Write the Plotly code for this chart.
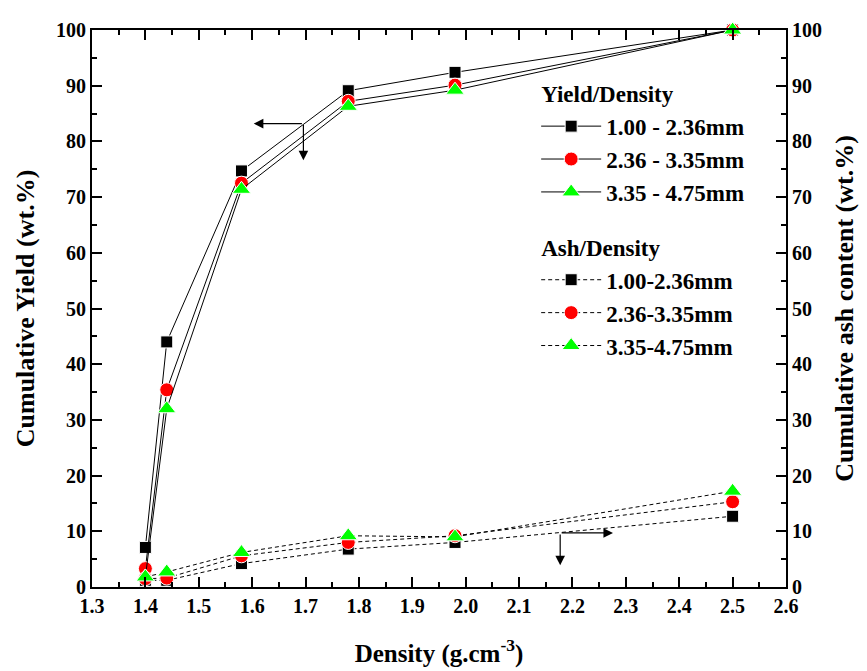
import plotly.graph_objects as go

density = [1.40, 1.44, 1.58, 1.78, 1.98, 2.50]

yield_names = ["1.00 - 2.36mm", "2.36 - 3.35mm", "3.35 - 4.75mm"]
yield_a = [7.1, 44.0, 74.7, 89.1, 92.4, 100.0]
yield_b = [3.3, 35.4, 72.5, 87.2, 90.1, 100.0]
yield_c = [1.8, 32.0, 71.4, 86.3, 89.2, 100.0]

ash_names = ["1.00-2.36mm", "2.36-3.35mm", "3.35-4.75mm"]
ash_a = [1.2, 1.2, 4.2, 6.8, 8.0, 12.7]
ash_b = [1.5, 1.6, 5.6, 8.0, 9.2, 15.3]
ash_c = [1.8, 2.7, 6.2, 9.2, 9.0, 17.2]

x_ticks = [1.3, 1.4, 1.5, 1.6, 1.7, 1.8, 1.9, 2.0, 2.1, 2.2, 2.3, 2.4, 2.5, 2.6]
x_tick_text = ["1.3", "1.4", "1.5", "1.6", "1.7", "1.8", "1.9", "2.0", "2.1", "2.2", "2.3", "2.4", "2.5", "2.6"]
y_ticks = [0, 10, 20, 30, 40, 50, 60, 70, 80, 90, 100]
y_tick_text = ["0", "10", "20", "30", "40", "50", "60", "70", "80", "90", "100"]

FONT = "Liberation Serif"
symbols = ["square", "circle", "triangle-up"]
colors = ["#000000", "#ff0000", "#00ff00"]
sizes = [12, 14, 16]

fig = go.Figure()

for i, (name, ys) in enumerate(zip(yield_names, [yield_a, yield_b, yield_c])):
    fig.add_trace(go.Scatter(
        x=density, y=ys, name=name, mode="lines+markers",
        line=dict(color="black", width=1),
        marker=dict(symbol=symbols[i], color=colors[i], size=sizes[i],
                    line=dict(color="white", width=1)),
        legendgroup="yield",
        legendgrouptitle=dict(text="<b>Yield/Density</b>"),
        cliponaxis=False,
    ))

for i, (name, ys) in enumerate(zip(ash_names, [ash_a, ash_b, ash_c])):
    fig.add_trace(go.Scatter(
        x=density, y=ys, name=name, mode="lines+markers", yaxis="y2",
        line=dict(color="black", width=1, dash="4px,3px"),
        marker=dict(symbol=symbols[i], color=colors[i], size=sizes[i],
                    line=dict(color="white", width=1)),
        legendgroup="ash",
        legendgrouptitle=dict(text="<b>Ash/Density</b>"),
        cliponaxis=False,
    ))

# Arrows
arrow_common = dict(showarrow=True, arrowhead=2, arrowsize=1.6, arrowwidth=1.2,
                    arrowcolor="black", text="", axref="x", ayref="y")
fig.add_annotation(x=1.603, y=83.2, ax=1.696, ay=83.2, xref="x", yref="y", **arrow_common)
fig.add_annotation(x=1.696, y=76.6, ax=1.696, ay=83.2, xref="x", yref="y", **arrow_common)
fig.add_annotation(x=2.276, y=9.7, ax=2.177, ay=9.7, xref="x", yref="y", **arrow_common)
fig.add_annotation(x=2.177, y=3.9, ax=2.177, ay=9.7, xref="x", yref="y", **arrow_common)

axis_font = dict(family=FONT, size=20, color="black", weight="bold")
ytitle_font = dict(family=FONT, size=26, color="black", weight="bold")
xtitle_font = dict(family=FONT, size=25, color="black", weight="bold")

bold = lambda lst: ["<b>%s</b>" % t for t in lst]

fig.update_layout(
    width=867, height=671,
    margin=dict(l=84, r=89, t=11, b=92),
    paper_bgcolor="white", plot_bgcolor="white",
    font=dict(family=FONT, color="black"),
    xaxis=dict(
        range=[1.3, 2.6], tickmode="array", tickvals=x_ticks, ticktext=bold(x_tick_text),
        ticks="inside", ticklen=10, tickwidth=2, tickcolor="black",
        showline=True, linewidth=2, linecolor="black", mirror="ticks",
        showgrid=False, zeroline=False, tickfont=axis_font,
        minor=dict(dtick=0.05, ticks="inside", ticklen=5, tickwidth=2, tickcolor="black", showgrid=False),
        title=dict(text="<b>Density (g.cm<sup>-3</sup>)</b>", font=xtitle_font, standoff=28),
    ),
    yaxis=dict(
        range=[0, 100], tickmode="array", tickvals=y_ticks, ticktext=bold(y_tick_text),
        ticks="inside", ticklen=10, tickwidth=2, tickcolor="black",
        showline=True, linewidth=2, linecolor="black", mirror=False,
        showgrid=False, zeroline=False, tickfont=axis_font,
        minor=dict(dtick=5, ticks="inside", ticklen=5, tickwidth=2, tickcolor="black", showgrid=False),
        title=dict(text="<b>Cumulative Yield (wt.%)</b>", font=ytitle_font, standoff=14),
    ),
    yaxis2=dict(
        range=[0, 100], tickmode="array", tickvals=y_ticks, ticktext=bold(y_tick_text),
        overlaying="y", side="right",
        ticks="inside", ticklen=10, tickwidth=2, tickcolor="black",
        showline=True, linewidth=2, linecolor="black",
        showgrid=False, zeroline=False, tickfont=axis_font,
        minor=dict(dtick=5, ticks="inside", ticklen=5, tickwidth=2, tickcolor="black", showgrid=False),
        title=dict(text="<b>Cumulative ash content (wt.%)</b>", font=ytitle_font, standoff=14),
    ),
    legend=dict(
        x=0.64, y=0.925, xanchor="left", yanchor="top",
        bgcolor="rgba(0,0,0,0)", borderwidth=0,
        font=dict(family=FONT, size=23, color="black", weight="bold"),
        grouptitlefont=dict(family=FONT, size=23, color="black", weight="bold"),
        itemwidth=60, tracegroupgap=22,
    ),
    showlegend=True,
)

fig.write_html("out.html")
